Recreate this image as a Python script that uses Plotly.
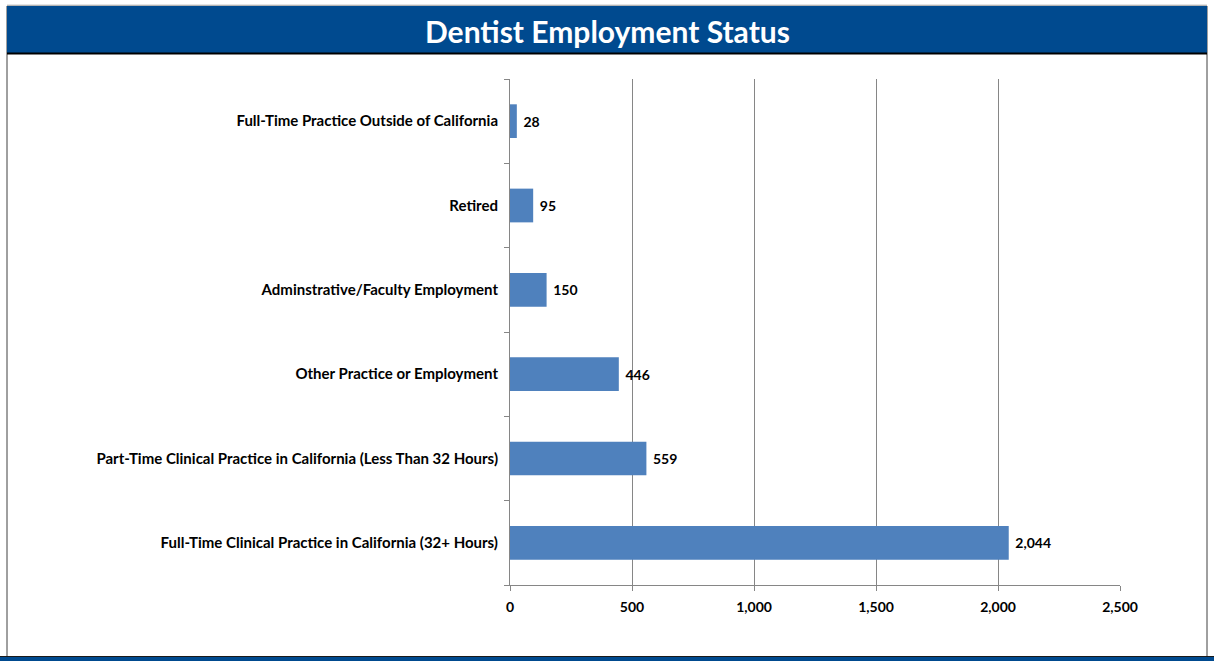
import plotly.graph_objects as go

categories = [
    "Full-Time Clinical Practice in California (32+ Hours)",
    "Part-Time Clinical Practice in California (Less Than 32 Hours)",
    "Other Practice or Employment",
    "Adminstrative/Faculty Employment",
    "Retired",
    "Full-Time Practice Outside of California",
]
values = [2044, 559, 446, 150, 95, 28]
x_ticks = [0, 500, 1000, 1500, 2000, 2500]
x_tick_labels = ["0", "500", "1,000", "1,500", "2,000", "2,500"]
title_text = "Dentist Employment Status"

W, H = 1214, 661
L, R, T, B = 510, 1120, 79, 585

def px(x):
    return (x - L) / (R - L)

def py(y):
    return (B - y) / (B - T)

FONT = "Lato, Calibri, 'Open Sans', sans-serif"

fig = go.Figure(go.Bar(
    y=categories,
    x=values,
    orientation="h",
    marker=dict(color="#4F81BD", line=dict(width=0)),
    width=0.4,
    text=[f" <b>{v:,}</b>" for v in values],
    textposition="outside",
    textfont=dict(family=FONT, size=14, color="#000000"),
    cliponaxis=False,
))

shapes = [
    dict(type="line", xref="paper", yref="paper", x0=px(7), x1=px(1207), y0=py(5), y1=py(5),
         line=dict(color="#C8C8C8", width=1)),
    # outer border
    dict(type="rect", xref="paper", yref="paper", x0=px(7), x1=px(1207), y0=py(657), y1=py(6),
         line=dict(color="#404040", width=1), fillcolor="rgba(0,0,0,0)", layer="below"),
    # title band
    dict(type="rect", xref="paper", yref="paper", x0=px(7), x1=px(1207), y0=py(53), y1=py(6),
         line=dict(width=0), fillcolor="#004A8F", layer="below"),
    dict(type="line", xref="paper", yref="paper", x0=px(7), x1=px(1207), y0=py(53.5), y1=py(53.5),
         line=dict(color="#000000", width=2)),
    # bottom band
    dict(type="rect", xref="paper", yref="paper", x0=px(0), x1=px(W), y0=py(662), y1=py(657),
         line=dict(width=0), fillcolor="#004A8F", layer="below"),
    dict(type="line", xref="paper", yref="paper", x0=px(0), x1=px(W), y0=py(656.5), y1=py(656.5),
         line=dict(color="#1a1a1a", width=1)),
]

fig.update_layout(
    width=W, height=H,
    margin=dict(l=L, r=W - R, t=T, b=H - B),
    paper_bgcolor="white",
    plot_bgcolor="white",
    showlegend=False,
    shapes=shapes,
    annotations=[dict(
        text=f"<b>{title_text}</b>", xref="paper", yref="paper",
        x=px(607), y=py(31), xanchor="center", yanchor="middle",
        showarrow=False, font=dict(family=FONT, size=30, color="white"),
    )],
    bargap=0.6,
)

fig.update_xaxes(
    range=[0, 2500],
    tickvals=x_ticks,
    ticktext=[f"<b>{t}</b>" for t in x_tick_labels],
    tickfont=dict(family=FONT, size=14, color="#000000"),
    showgrid=True, gridcolor="#868686", gridwidth=1,
    showline=True, linecolor="#868686", linewidth=1,
    ticks="outside", ticklen=5, tickcolor="#868686",
    ticklabelstandoff=4,
    zeroline=False,
)

fig.update_yaxes(
    categoryorder="array", categoryarray=categories,
    tickvals=categories,
    ticktext=[f"<b>{c}</b>" for c in categories],
    tickfont=dict(family=FONT, size=15, color="#000000"),
    showline=True, linecolor="#868686", linewidth=1,
    ticks="outside", ticklen=5, tickcolor="#868686",
    tickson="boundaries",
    ticklabelstandoff=8,
    showgrid=False,
)

fig.write_html(
    "out.html",
    config={"displayModeBar": False},
    post_script="document.body.style.margin='0';document.body.style.overflow='hidden';",
)
